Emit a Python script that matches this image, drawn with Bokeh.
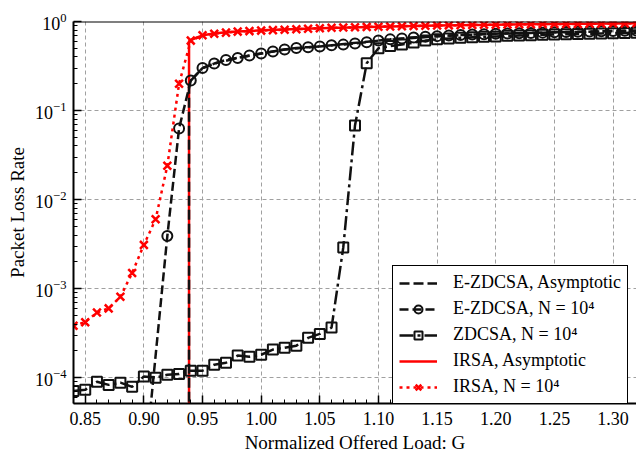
from bokeh.plotting import figure
from bokeh.models import (Legend, LegendItem, SingleIntervalTicker, Span,
                          FixedTicker, NumeralTickFormatter, Range1d)
from bokeh.embed import file_html
from bokeh.resources import INLINE

# ---------------- data ----------------
G = [0.84, 0.85, 0.86, 0.87, 0.88, 0.89, 0.90, 0.91, 0.92, 0.93, 0.94, 0.95,
     0.96, 0.97, 0.98, 0.99, 1.00, 1.01, 1.02, 1.03, 1.04, 1.05, 1.06, 1.07,
     1.08, 1.09, 1.10, 1.11, 1.12, 1.13, 1.14, 1.15, 1.16, 1.17, 1.18, 1.19,
     1.20, 1.21, 1.22, 1.23, 1.24, 1.25, 1.26, 1.27, 1.28, 1.29, 1.30, 1.31, 1.32]

# ZDCSA, N = 10^4 (squares)
zdcsa_plr = [7.1e-5, 7.3e-5, 9.0e-5, 8.3e-5, 8.8e-5, 7.9e-5, 1.03e-4, 1.0e-4,
             1.08e-4, 1.1e-4, 1.2e-4, 1.2e-4, 1.4e-4, 1.47e-4, 1.77e-4, 1.72e-4,
             1.81e-4, 2.07e-4, 2.17e-4, 2.29e-4, 2.8e-4, 3.1e-4, 3.65e-4, 2.9e-3,
             0.068, 0.34, 0.50, 0.53, 0.55, 0.58, 0.61, 0.63, 0.645, 0.655, 0.665,
             0.675, 0.68, 0.69, 0.695, 0.70, 0.71, 0.715, 0.72, 0.725, 0.73, 0.735,
             0.74, 0.745, 0.75]

# IRSA, N = 10^4 (x markers)
irsa_plr = [3.84e-4, 4.2e-4, 5.4e-4, 6.0e-4, 8.1e-4, 1.5e-3, 3.1e-3, 6.0e-3,
            0.024, 0.20, 0.61, 0.70, 0.73, 0.75, 0.77, 0.78, 0.79, 0.80, 0.81,
            0.82, 0.83, 0.84, 0.85, 0.855, 0.86, 0.87, 0.875, 0.88, 0.885, 0.89,
            0.895, 0.90, 0.905, 0.91, 0.915, 0.92, 0.92, 0.925, 0.93, 0.93, 0.935,
            0.935, 0.94, 0.94, 0.945, 0.945, 0.95, 0.95, 0.955]

# E-ZDCSA, N = 10^4 (circles)
G_ez = [0.90, 0.92, 0.93, 0.94, 0.95, 0.96, 0.97, 0.98, 0.99, 1.00, 1.01, 1.02,
        1.03, 1.04, 1.05, 1.06, 1.07, 1.08, 1.09, 1.10, 1.11, 1.12, 1.13, 1.14,
        1.15, 1.16, 1.17, 1.18, 1.19, 1.20, 1.21, 1.22, 1.23, 1.24, 1.25, 1.26,
        1.27, 1.28, 1.29, 1.30, 1.31, 1.32]
ezdcsa_plr = [8e-6, 0.0039, 0.063, 0.217, 0.30, 0.337, 0.37, 0.39, 0.415, 0.437,
              0.46, 0.485, 0.505, 0.515, 0.525, 0.54, 0.55, 0.565, 0.585, 0.61,
              0.63, 0.645, 0.66, 0.675, 0.685, 0.695, 0.705, 0.715, 0.72, 0.73,
              0.735, 0.74, 0.745, 0.75, 0.755, 0.76, 0.765, 0.77, 0.775, 0.78,
              0.785, 0.79]

# E-ZDCSA, asymptotic (threshold ~0.9385)
G_ez_asym = [0.9385, 0.9385, 0.94, 0.95, 0.96, 0.98, 1.00, 1.02, 1.05, 1.10,
             1.15, 1.20, 1.25, 1.30, 1.32]
ez_asym_plr = [1e-6, 0.21, 0.217, 0.30, 0.337, 0.39, 0.437, 0.485, 0.525, 0.61,
               0.685, 0.73, 0.755, 0.78, 0.79]

# IRSA, asymptotic
G_irsa_asym = [0.9385, 0.9385, 0.94, 0.95, 0.96, 0.97, 0.98, 1.00, 1.05, 1.10,
               1.15, 1.20, 1.25, 1.30, 1.32]
irsa_asym_plr = [1e-6, 0.60, 0.62, 0.70, 0.735, 0.755, 0.77, 0.795, 0.84, 0.875,
                 0.90, 0.92, 0.935, 0.95, 0.955]

y_ticks = [1e-4, 1e-3, 1e-2, 1e-1, 1]

# ---------------- figure ----------------
FONT = "Liberation Serif"
p = figure(frame_width=563, frame_height=382, y_axis_type="log",
           output_backend="svg", toolbar_location=None,
           x_range=Range1d(0.84, 1.32), y_range=Range1d(5.13e-5, 1.0),
           min_border_left=73, min_border_right=0, min_border_top=21,
           min_border_bottom=54)
p.outline_line_color = None
p.background_fill_color = "white"

minor_y = [m * 10.0 ** e for e in range(-5, 0) for m in range(2, 10)]

xa = p.xaxis[0]
xa.ticker = SingleIntervalTicker(interval=0.05, num_minor_ticks=5)
xa.formatter = NumeralTickFormatter(format="0.00")
ya = p.yaxis[0]
ya.ticker = FixedTicker(ticks=y_ticks, minor_ticks=minor_y)

for ax in (xa, ya):
    ax.axis_line_width = 2
    ax.axis_line_color = "black"
    ax.major_tick_in = 8
    ax.major_tick_out = 0
    ax.minor_tick_in = 4
    ax.minor_tick_out = 0
    ax.major_tick_line_width = 1.5
    ax.minor_tick_line_width = 1
    ax.major_tick_line_color = "black"
    ax.minor_tick_line_color = "black"
    ax.major_label_text_color = "black"
    ax.major_label_text_font = FONT
    ax.major_label_text_font_size = "18px"
    ax.axis_label_text_font = FONT
    ax.axis_label_text_font_size = "19px"
    ax.axis_label_text_font_style = "normal"
    ax.axis_label_text_color = "black"
xa.axis_label = "Normalized Offered Load: G"
ya.axis_label = "Packet Loss Rate"
xa.major_label_standoff = 8
xa.axis_label_standoff = 4
ya.major_label_standoff = 7
ya.axis_label_standoff = 4

p.add_layout(Span(location=1.0, dimension="width", line_color="black",
                  line_width=2))

for g in (p.xgrid[0], p.ygrid[0]):
    g.grid_line_color = "#a0a0a0"
    g.grid_line_dash = "4 3"
    g.grid_line_width = 1
p.ygrid[0].ticker = FixedTicker(ticks=y_ticks)

BLACK = "#111111"
RED = "#ff0000"

r_irsa_asym = p.line(G_irsa_asym, irsa_asym_plr, line_color=RED, line_width=2.5)

r_ez_asym = p.line(G_ez_asym, ez_asym_plr, line_color=BLACK, line_width=2.5,
                   line_dash="10 4")

r_ez_line = p.line(G_ez, ezdcsa_plr, line_color=BLACK, line_width=2.5,
                   line_dash="9 4")
r_ez_mark = p.scatter(G_ez, ezdcsa_plr, marker="circle", size=10,
                      line_color=BLACK, line_width=2, fill_color=None)

r_zd_line = p.line(G, zdcsa_plr, line_color=BLACK, line_width=2.5,
                   line_dash="14 4 3 4")
r_zd_mark = p.scatter(G, zdcsa_plr, marker="square", size=10,
                      line_color=BLACK, line_width=2, fill_color=None)

r_ir_line = p.line(G, irsa_plr, line_color=RED, line_width=2.5,
                   line_dash="3 4")
r_ir_mark = p.scatter(G, irsa_plr, marker="x", size=11, line_color=RED,
                      line_width=2.5)

legend = Legend(items=[
    LegendItem(label="E-ZDCSA, Asymptotic", renderers=[r_ez_asym]),
    LegendItem(label="E-ZDCSA, N = 10\u2074", renderers=[r_ez_line, r_ez_mark]),
    LegendItem(label="ZDCSA, N = 10\u2074", renderers=[r_zd_line, r_zd_mark]),
    LegendItem(label="IRSA, Asymptotic", renderers=[r_irsa_asym]),
    LegendItem(label="IRSA, N = 10\u2074", renderers=[r_ir_line, r_ir_mark]),
], location=(319, -1))
legend.margin = 0
legend.padding = 6
legend.spacing = 5
legend.glyph_width = 38
legend.glyph_height = 20
legend.label_height = 21
legend.label_standoff = 16
legend.label_text_font = FONT
legend.label_text_font_size = "18px"
legend.label_text_color = "black"
legend.border_line_color = "black"
legend.border_line_width = 1
legend.border_line_alpha = 1
legend.background_fill_alpha = 1
p.add_layout(legend, "center")

open("out.html", "w").write(file_html(p, INLINE))
